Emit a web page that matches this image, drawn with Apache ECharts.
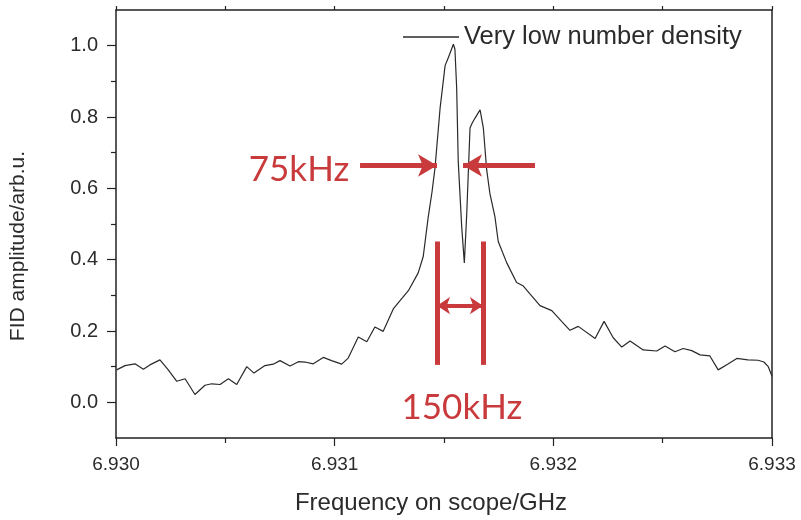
<!DOCTYPE html>
<html>
<head>
<meta charset="utf-8">
<script src="https://cdn.jsdelivr.net/npm/echarts@6/dist/echarts.min.js"></script>
<style>html,body{margin:0;padding:0;background:#fff}#c{width:801px;height:520px}</style>
</head>
<body>
<div id="c"></div>
<script>
// ---- data ----
const freqGHz = [6.930003,6.930041,6.930087,6.930125,6.930155,6.930201,6.930239,6.930278,6.930316,6.930361,
6.930407,6.930438,6.930476,6.930514,6.930552,6.930598,6.930631,6.930681,6.930719,6.930750,
6.930796,6.930834,6.930864,6.930902,6.930948,6.930986,6.931032,6.931062,6.931108,6.931147,
6.931184,6.931222,6.931268,6.931299,6.931337,6.931382,6.931405,6.931428,6.931445,6.931459,
6.931482,6.931505,6.931520,6.931543,6.931550,6.931558,6.931565,6.931581,6.931593,6.931604,
6.931619,6.931629,6.931642,6.931665,6.931680,6.931695,6.931710,6.931733,6.931748,6.931787,
6.931832,6.931863,6.931893,6.931939,6.931993,6.932038,6.932076,6.932114,6.932191,6.932232,
6.932274,6.932313,6.932351,6.932411,6.932473,6.932511,6.932556,6.932594,6.932633,6.932671,
6.932716,6.932754,6.932797,6.932839,6.932890,6.932936,6.932963,6.932983,6.933000];
const amplitude = [0.091,0.103,0.108,0.093,0.105,0.119,0.091,0.059,0.066,0.022,
0.048,0.052,0.050,0.066,0.050,0.100,0.082,0.103,0.107,0.117,
0.102,0.114,0.113,0.108,0.126,0.117,0.107,0.124,0.183,0.170,
0.211,0.199,0.262,0.285,0.313,0.363,0.409,0.520,0.589,0.658,
0.824,0.944,0.967,1.004,0.990,0.880,0.677,0.492,0.391,0.529,
0.769,0.783,0.797,0.820,0.769,0.653,0.585,0.520,0.451,0.391,
0.336,0.326,0.304,0.271,0.257,0.227,0.202,0.213,0.179,0.227,
0.181,0.155,0.172,0.147,0.144,0.158,0.142,0.151,0.145,0.133,
0.130,0.091,0.107,0.123,0.119,0.118,0.113,0.100,0.073];
const seriesName = 'Very low number density';
const xTicks = [6.930, 6.931, 6.932, 6.933];
const yTicks = [0.0, 0.2, 0.4, 0.6, 0.8, 1.0];
const yMinorTicks = [0.1, 0.3, 0.5, 0.7, 0.9];

// ---- annotation geometry (data units) ----
const arrowY = 0.664;
const arrowLeft = [6.931116, 6.931468];
const arrowRight = [6.931916, 6.931587];
const barX = [6.931468, 6.931678];
const barY = [0.105, 0.451];
const dblArrowY = 0.271;
const label75 = [6.930837, 0.652];
const label150 = [6.931582, -0.016];

const RED = '#c93a3c';
const TXT = '#2b2b2b';
const AX = '#222';

const chart = echarts.init(document.getElementById('c'), null, {renderer: 'canvas'});
const pts = freqGHz.map((f, i) => [f, amplitude[i]]);

const commonX = {
  type: 'value', min: 6.930, max: 6.933, interval: 0.001,
  splitLine: {show: false},
  axisLine: {show: true, onZero: false, lineStyle: {color: AX, width: 1.5}}
};

chart.setOption({
  animation: false,
  backgroundColor: '#fff',
  grid: {left: 116, right: 29, top: 10, bottom: 77, containLabel: false},
  legend: {
    show: true, left: 398, top: 19, itemWidth: 56, itemHeight: 14, itemGap: 6,
    icon: 'path://M0,0L100,0L100,3L0,3Z',
    textStyle: {fontFamily: 'Liberation Sans', fontSize: 25.5, color: TXT},
    data: [seriesName]
  },
  xAxis: [
    Object.assign({}, commonX, {
      position: 'bottom',
      name: 'Frequency on scope/GHz', nameLocation: 'middle', nameGap: 53,
      nameTextStyle: {fontFamily: 'Liberation Sans', fontSize: 24, color: TXT, padding: [0, 26, 0, 0]},
      axisTick: {show: true, inside: false, length: 8, lineStyle: {color: AX, width: 1.2}},
      minorTick: {show: true, splitNumber: 2, length: 5, lineStyle: {color: AX, width: 1.2}},
      axisLabel: {show: true, margin: 17, fontFamily: 'Liberation Sans', fontSize: 19, color: TXT,
        formatter: v => v.toFixed(3)}
    }),
    Object.assign({}, commonX, {
      position: 'top',
      axisTick: {show: true, inside: false, length: 4, lineStyle: {color: AX, width: 1.2}},
      minorTick: {show: true, splitNumber: 2, length: 4, lineStyle: {color: AX, width: 1.2}},
      axisLabel: {show: false}
    })
  ],
  yAxis: [
    {
      type: 'value', min: -0.1, max: 1.1, position: 'left',
      splitLine: {show: false},
      axisLine: {show: true, onZero: false, lineStyle: {color: AX, width: 1.5}},
      axisTick: {show: true, inside: false, length: 9, customValues: yTicks, lineStyle: {color: AX, width: 1.2}},
      axisLabel: {show: true, margin: 18, customValues: yTicks, fontFamily: 'Liberation Sans', fontSize: 20, color: TXT,
        formatter: v => v.toFixed(1)},
      name: 'FID amplitude/arb.u.', nameLocation: 'middle', nameGap: 87, nameRotate: 90,
      nameTextStyle: {fontFamily: 'Liberation Sans', fontSize: 21, color: TXT, padding: [0, 44, 0, 0]}
    },
    {
      type: 'value', min: -0.1, max: 1.1, position: 'left',
      splitLine: {show: false},
      axisLine: {show: false},
      axisTick: {show: true, inside: false, length: 5, customValues: yMinorTicks, lineStyle: {color: AX, width: 1.2}},
      axisLabel: {show: false, customValues: yMinorTicks}
    },
    {
      type: 'value', min: -0.1, max: 1.1, position: 'right',
      splitLine: {show: false},
      axisLine: {show: true, onZero: false, lineStyle: {color: AX, width: 1.5}},
      axisTick: {show: false},
      axisLabel: {show: false}
    }
  ],
  series: [
    {
      name: seriesName, type: 'line', xAxisIndex: 0, yAxisIndex: 0,
      data: pts, symbol: 'none', showSymbol: false,
      lineStyle: {color: '#2a2a2a', width: 1.2},
      itemStyle: {color: '#2a2a2a'},
      markLine: {
        silent: true, animation: false,
        lineStyle: {color: RED, width: 5, type: 'solid', opacity: 1},
        label: {show: false},
        emphasis: {disabled: true},
        data: [
          [{coord: [arrowLeft[0], arrowY], symbol: 'none'}, {coord: [arrowLeft[1], arrowY], symbol: 'arrow', symbolSize: [17, 19]}],
          [{coord: [arrowRight[0], arrowY], symbol: 'none'}, {coord: [arrowRight[1], arrowY], symbol: 'arrow', symbolSize: [17, 19]}],
          [{coord: [barX[0], barY[0]], symbol: 'none'}, {coord: [barX[0], barY[1]], symbol: 'none'}],
          [{coord: [barX[1], barY[0]], symbol: 'none'}, {coord: [barX[1], barY[1]], symbol: 'none'}],
          [{coord: [barX[0], dblArrowY], symbol: 'arrow', symbolSize: [13, 13], lineStyle: {width: 4}},
           {coord: [barX[1], dblArrowY], symbol: 'arrow', symbolSize: [13, 13]}]
        ]
      },
      markPoint: {
        silent: true, animation: false,
        symbol: 'rect', symbolSize: 1,
        itemStyle: {color: 'rgba(0,0,0,0)'},
        data: [
          {coord: label75, label: {show: true, position: 'inside', formatter: '75kHz', color: RED, fontFamily: 'Lato', fontSize: 35}},
          {coord: label150, label: {show: true, position: 'inside', formatter: '150kHz', color: RED, fontFamily: 'Lato', fontSize: 35}}
        ]
      }
    }
  ]
});
</script>
</body>
</html>
